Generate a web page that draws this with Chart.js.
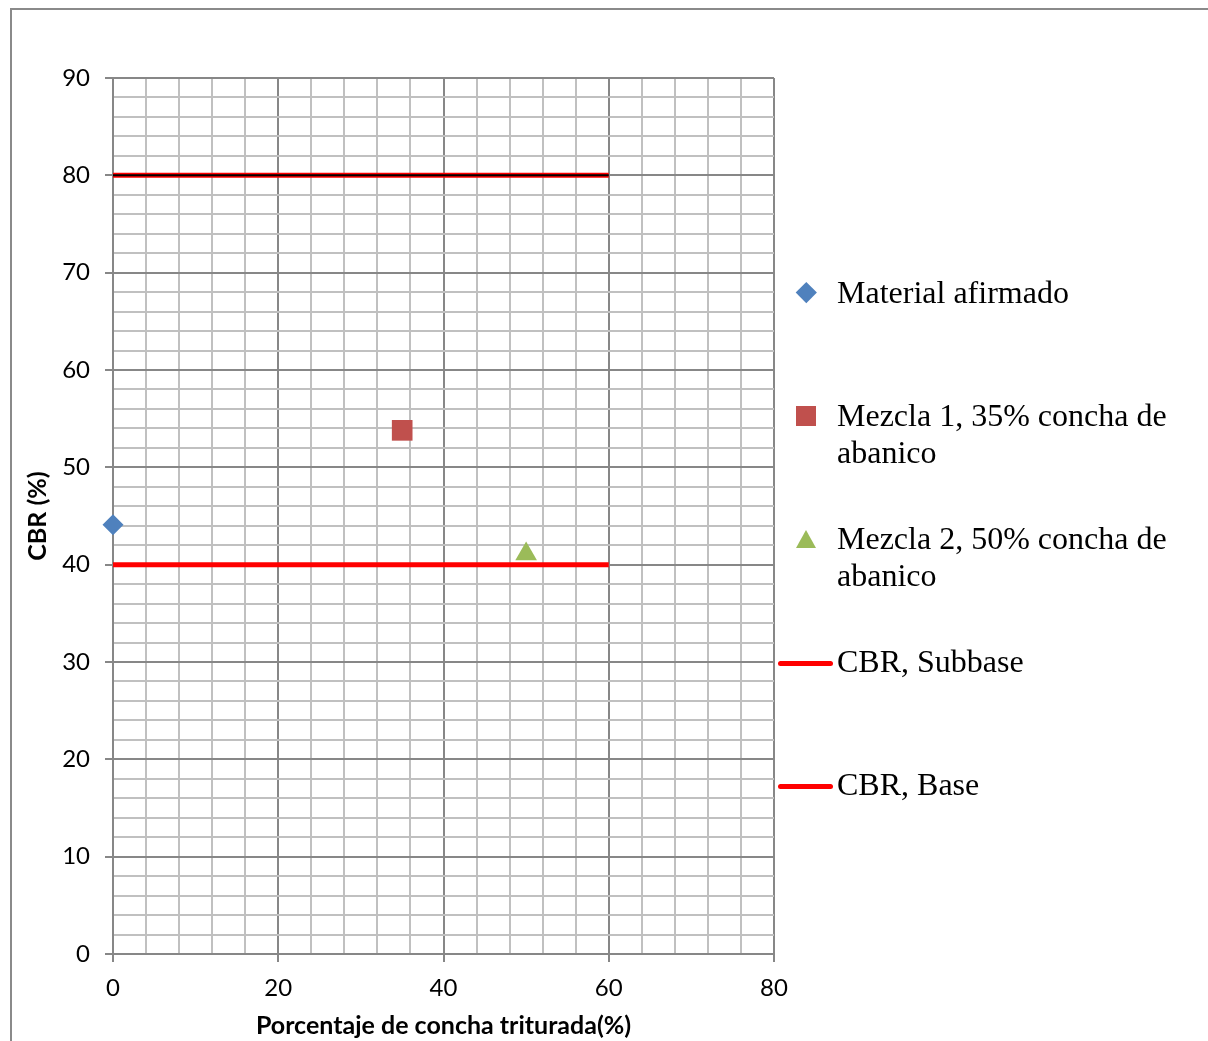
<!DOCTYPE html>
<html>
<head>
<meta charset="utf-8">
<script src="https://cdn.jsdelivr.net/npm/chart.js@4/dist/chart.umd.min.js"></script>
<style>
  html, body { margin: 0; padding: 0; background: #ffffff; }
  #wrap { position: relative; width: 1208px; height: 1041px; overflow: hidden; }
  #frame { position: absolute; left: 10px; top: 8px; width: 1400px; height: 1200px;
           border: 2px solid #8a8a8a; box-sizing: border-box; pointer-events: none; }
  #cbr { position: absolute; left: 0; top: 0; }
  .item { position: absolute; left: 0; width: 1208px; height: 123px; }
  .item .txt { position: absolute; left: 837px; top: 0; width: 350px;
               font-family: "Liberation Serif", "Times New Roman", serif;
               font-size: 32px; line-height: 37px; color: #000; }
  .mk { position: absolute; }
</style>
</head>
<body>
<div id="wrap">
  <canvas id="cbr" width="1208" height="1041"></canvas>
  <div id="frame"></div>
  <div id="legend"></div>
</div>
<script>
// Series names
const seriesLabels = [
  'Material afirmado',
  'Mezcla 1, 35% concha de abanico',
  'Mezcla 2, 50% concha de abanico',
  'CBR, Subbase',
  'CBR, Base'
];
// Test results: crushed-shell content (%) and measured CBR (%)
const shellPercent = [0, 35, 50];
const cbrValues = [44.1, 53.8, 41.1];
// Specification limits
const limitX = [0, 60];
const subbaseCBR = [40, 40];
const baseCBR = [80, 80];
// Axis labels
const xTickLabels = [0, 20, 40, 60, 80];
const yTickLabels = [0, 10, 20, 30, 40, 50, 60, 70, 80, 90];

const pointColors = ['#4F81BD', '#C0504D', '#9BBB59'];
const pointStyles = ['rectRot', 'rect', 'triangle'];
const pointSizes = [10.5, 14.6, 12.5];
const limitColor = '#FF0000';

const majorGrid = '#878787';
const minorGrid = '#c0c0c0';

const samplePoint = i => ({
  label: seriesLabels[i],
  data: [{ x: shellPercent[i], y: cbrValues[i] }],
  pointStyle: pointStyles[i],
  pointRadius: pointSizes[i],
  pointHoverRadius: pointSizes[i],
  backgroundColor: pointColors[i],
  borderColor: pointColors[i],
  borderWidth: 0,
  showLine: false,
  clip: false
});

const limitLine = (label, ys, color, width) => ({
  label: label,
  data: limitX.map((x, i) => ({ x: x, y: ys[i] })),
  showLine: true,
  borderColor: color,
  backgroundColor: color,
  borderWidth: width,
  borderCapStyle: 'butt',
  pointRadius: 0,
  pointHoverRadius: 0,
  fill: false,
  clip: false
});

Chart.defaults.font.family = 'Lato, "Open Sans", sans-serif';
Chart.defaults.color = '#000';

new Chart(document.getElementById('cbr'), {
  type: 'scatter',
  data: {
    datasets: [
      samplePoint(0),
      samplePoint(1),
      samplePoint(2),
      // thin dark core on the base limit line
      limitLine('CBR, Base (núcleo)', baseCBR, '#000000', 2),
      limitLine(seriesLabels[4], baseCBR, limitColor, 5),
      limitLine(seriesLabels[3], subbaseCBR, limitColor, 5)
    ]
  },
  options: {
    responsive: false,
    devicePixelRatio: 1,
    animation: false,
    events: [],
    layout: { padding: { left: 0, top: 78, right: 434, bottom: 0 } },
    plugins: { legend: { display: false }, tooltip: { enabled: false } },
    scales: {
      x: {
        type: 'linear',
        min: 0, max: 80,
        afterFit: s => { s.height = 87; },
        ticks: {
          stepSize: 4, autoSkip: false, maxRotation: 0, padding: 12,
          font: { size: 24 }, color: '#000',
          callback: v => (xTickLabels.includes(v) ? String(v) : '')
        },
        grid: {
          lineWidth: 2,
          tickLength: 8,
          color: c => (c.tick && c.tick.value % 20 === 0 ? majorGrid : minorGrid),
          tickColor: c => (c.tick && c.tick.value % 20 === 0 ? majorGrid : 'rgba(0,0,0,0)')
        },
        border: { color: majorGrid, width: 2 },
        title: {
          display: true, text: 'Porcentaje de concha triturada(%)',
          font: { size: 25, weight: 'bold' }, color: '#000', padding: 0
        }
      },
      y: {
        type: 'linear',
        min: 0, max: 90,
        afterFit: s => { s.width = 113; },
        ticks: {
          stepSize: 2, autoSkip: false, padding: 15,
          font: { size: 24 }, color: '#000',
          callback: v => (yTickLabels.includes(v) ? String(v) : '')
        },
        grid: {
          lineWidth: 2,
          tickLength: 8,
          color: c => (c.tick && c.tick.value % 10 === 0 ? majorGrid : minorGrid),
          tickColor: c => (c.tick && c.tick.value % 10 === 0 ? majorGrid : 'rgba(0,0,0,0)')
        },
        border: { color: majorGrid, width: 2 },
        title: {
          display: true, text: 'CBR (%)',
          font: { size: 25, weight: 'bold' }, color: '#000', padding: { top: 23 }
        }
      }
    }
  }
});

// Legend at the right of the plot
const legend = document.getElementById('legend');
const legendTop = 274, legendStep = 123, markerX = 806;
seriesLabels.forEach((label, i) => {
  const item = document.createElement('div');
  item.className = 'item';
  item.style.top = (legendTop + i * legendStep) + 'px';
  const mk = document.createElement('div');
  mk.className = 'mk';
  const cy = 18.5;
  if (i < 3) {
    const style = pointStyles[i];
    if (style === 'rectRot') {
      Object.assign(mk.style, { width: '14.6px', height: '14.6px', left: (markerX - 7.3) + 'px',
        top: (cy - 7.3) + 'px', background: pointColors[i], transform: 'rotate(45deg)' });
    } else if (style === 'rect') {
      Object.assign(mk.style, { width: '20px', height: '20px', left: (markerX - 10) + 'px',
        top: (cy - 10) + 'px', background: pointColors[i] });
    } else {
      Object.assign(mk.style, { width: '0', height: '0', left: (markerX - 10.5) + 'px',
        top: (cy - 9) + 'px', borderLeft: '10.5px solid transparent',
        borderRight: '10.5px solid transparent', borderBottom: '18px solid ' + pointColors[i] });
    }
  } else {
    Object.assign(mk.style, { width: '55px', height: '5px', left: '778px',
      top: (cy + 2 - 2.5) + 'px', background: limitColor, borderRadius: '2.5px' });
  }
  const txt = document.createElement('div');
  txt.className = 'txt';
  txt.textContent = label;
  item.appendChild(mk);
  item.appendChild(txt);
  legend.appendChild(item);
});
</script>
</body>
</html>
